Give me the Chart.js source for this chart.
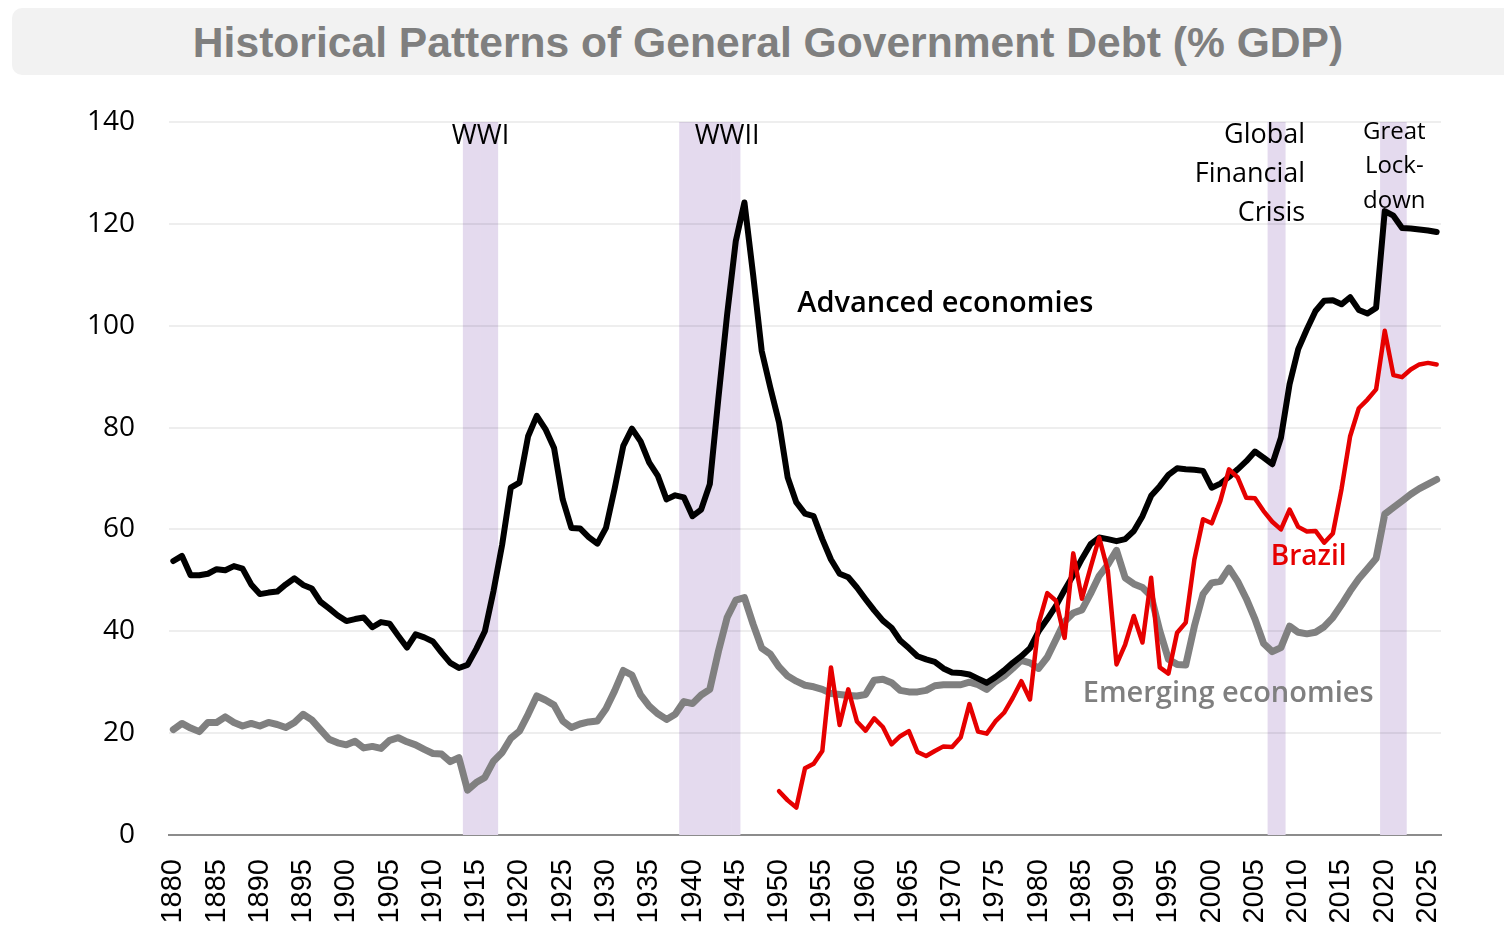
<!DOCTYPE html>
<html>
<head>
<meta charset="utf-8">
<script src="https://cdn.jsdelivr.net/npm/chart.js@4.4.1/dist/chart.umd.min.js"></script>
<style>
html,body{margin:0;padding:0;background:#fff;overflow:hidden;width:1504px;height:927px;}
#c{position:absolute;left:0;top:0;}
#title{position:absolute;left:12px;top:8px;width:1520px;height:67px;background:#f2f2f2;border-radius:10px;
 font-family:"Liberation Sans",Arial,sans-serif;font-weight:bold;font-size:42.6px;color:#7f7f7f;line-height:68px;z-index:2;}
#title span{position:absolute;left:0;top:0;width:1512px;text-align:center;white-space:nowrap;}
</style>
</head>
<body>
<canvas id="c" width="1504" height="927"></canvas>
<div id="title"><span>Historical Patterns of General Government Debt (% GDP)</span></div>
<script>
// ---- categories ----
const firstYear = 1880;
const lastYear = 2026;
const years = [];
for (let y = firstYear; y <= lastYear; y++) years.push(String(y));

// ---- y-axis tick labels ----
const yTicks = [0, 20, 40, 60, 80, 100, 120, 140];

// ---- series: Advanced economies (1880-2026) ----
const advanced = [
 53.8, 54.8, 51.0, 51.0, 51.3, 52.2, 52.0, 52.8, 52.3, 49.2,
 47.3, 47.6, 47.8, 49.2, 50.4, 49.1, 48.4, 45.8, 44.5, 43.1,
 42.0, 42.4, 42.7, 40.8, 41.8, 41.5, 39.1, 36.8, 39.4, 38.8,
 38.0, 35.8, 33.8, 32.8, 33.4, 36.5, 40.0, 47.9, 57.0, 68.2,
 69.2, 78.3, 82.3, 79.7, 76.0, 65.9, 60.3, 60.2, 58.5, 57.2,
 60.3, 68.0, 76.4, 79.8, 77.3, 73.1, 70.5, 65.9, 66.7, 66.3,
 62.6, 63.9, 68.9, 85.9, 102.2, 116.6, 124.2, 110.1, 95.0, 87.8,
 81.0, 70.2, 65.3, 63.1, 62.6, 58.1, 54.1, 51.3, 50.6, 48.6,
 46.3, 44.1, 42.1, 40.7, 38.2, 36.7, 35.1, 34.5, 34.0, 32.7,
 31.9, 31.8, 31.5, 30.7, 29.9, 31.0, 32.3, 33.8, 35.1, 36.7,
 40.0, 42.4, 45.0, 48.1, 51.0, 54.2, 57.1, 58.4, 58.1, 57.7,
 58.1, 59.7, 62.6, 66.6, 68.5, 70.7, 72.0, 71.8, 71.7, 71.5,
 68.2, 69.0, 70.3, 71.8, 73.4, 75.3, 74.1, 72.8, 78.0, 88.5,
 95.4, 99.3, 102.9, 104.9, 105.0, 104.2, 105.6, 103.1, 102.4, 103.5,
 122.5, 121.6, 119.2, 119.1, 118.9, 118.7, 118.4
];

// ---- series: Emerging economies (1880-2026) ----
const emerging = [
 20.7, 21.9, 21.0, 20.3, 22.1, 22.1, 23.2, 22.1, 21.4, 21.9,
 21.4, 22.1, 21.7, 21.1, 22.1, 23.7, 22.6, 20.7, 18.8, 18.1,
 17.7, 18.4, 17.1, 17.4, 17.0, 18.6, 19.1, 18.3, 17.7, 16.8,
 16.0, 15.9, 14.4, 15.2, 8.8, 10.3, 11.3, 14.5, 16.2, 19.0,
 20.4, 23.7, 27.3, 26.5, 25.5, 22.4, 21.1, 21.8, 22.2, 22.4,
 24.8, 28.3, 32.3, 31.4, 27.5, 25.3, 23.8, 22.7, 23.7, 26.2,
 25.8, 27.5, 28.6, 36.1, 42.7, 46.1, 46.6, 41.4, 36.7, 35.5,
 33.0, 31.2, 30.2, 29.4, 29.1, 28.6, 27.8, 27.6, 27.4, 27.3,
 27.6, 30.4, 30.6, 29.9, 28.4, 28.1, 28.1, 28.4, 29.3, 29.5,
 29.5, 29.5, 30.0, 29.5, 28.6, 30.1, 31.2, 32.7, 34.3, 33.8,
 32.7, 34.9, 38.4, 41.9, 43.6, 44.2, 47.4, 50.9, 53.1, 55.9,
 50.5, 49.3, 48.6, 46.9, 40.1, 34.5, 33.5, 33.4, 41.0, 47.3,
 49.5, 49.8, 52.4, 49.8, 46.4, 42.4, 37.6, 36.0, 36.8, 41.0,
 39.8, 39.5, 39.8, 40.9, 42.7, 45.2, 47.9, 50.3, 52.3, 54.3,
 63.0, 64.3, 65.6, 66.9, 68.0, 68.9, 69.8
];

// ---- series: Brazil (1950-2026) ----
const brazilStartYear = 1950;
const brazil = [
 8.6, 6.8, 5.4, 13.1, 14.0, 16.5, 32.9, 21.6, 28.6, 22.3,
 20.5, 22.9, 21.2, 17.8, 19.4, 20.4, 16.3, 15.5, 16.5, 17.4,
 17.3, 19.2, 25.7, 20.3, 19.9, 22.3, 24.0, 26.9, 30.2, 26.6,
 41.5, 47.5, 46.0, 38.7, 55.3, 46.4, 52.5, 58.4, 51.9, 33.5,
 37.4, 43.0, 37.8, 50.5, 32.9, 31.7, 39.7, 41.7, 54.1, 62.0,
 61.2, 65.6, 71.8, 70.2, 66.2, 66.1, 63.6, 61.5, 60.0, 63.9,
 60.5, 59.6, 59.7, 57.4, 59.2, 67.9, 78.3, 83.8, 85.5, 87.5,
 99.0, 90.3, 89.9, 91.4, 92.4, 92.7, 92.4
];

// ---- shaded event periods (first year, last year) ----
const eventPeriods = [[1914, 1917], [1939, 1945], [2007, 2008], [2020, 2022]];
const eventTop = 140;

// ---- derived datasets ----
const brazilData = years.map(y => {
  const i = Number(y) - brazilStartYear;
  return i >= 0 && i < brazil.length ? brazil[i] : null;
});
const bandData = years.map(y => {
  const yr = Number(y);
  return eventPeriods.some(p => yr >= p[0] && yr <= p[1]) ? eventTop : null;
});

// ---- text annotations (anchored in year / value units) ----
const FONT = '"Open Sans", "Noto Sans", sans-serif';
const notes = [
  {t: 'WWI', yr: 1915.5, v: 137.2, a: 'center', f: '27px ' + FONT, c: '#000'},
  {t: 'WWII', yr: 1944.0, v: 137.2, a: 'center', f: '27px ' + FONT, c: '#000'},
  {t: 'Global', yr: 2010.8, v: 137.4, a: 'right', f: '27px ' + FONT, c: '#000'},
  {t: 'Financial', yr: 2010.8, v: 129.8, a: 'right', f: '27px ' + FONT, c: '#000'},
  {t: 'Crisis', yr: 2010.8, v: 122.1, a: 'right', f: '27px ' + FONT, c: '#000'},
  {t: 'Great', yr: 2021.1, v: 138.0, a: 'center', f: '24px ' + FONT, c: '#000'},
  {t: 'Lock-', yr: 2021.1, v: 131.4, a: 'center', f: '24px ' + FONT, c: '#000'},
  {t: 'down', yr: 2021.1, v: 124.5, a: 'center', f: '24px ' + FONT, c: '#000'},
  {t: 'Advanced economies', yr: 1952.1, v: 104.3, a: 'left', f: '600 29px ' + FONT, c: '#000'},
  {t: 'Brazil', yr: 2011.2, v: 54.6, a: 'center', f: '600 28px ' + FONT, c: '#e60000'},
  {t: 'Emerging economies', yr: 1985.1, v: 27.7, a: 'left', f: '600 29px ' + FONT, c: '#7f7f7f'}
];

const notesPlugin = {
  id: 'notes',
  // horizontal gridlines drawn right after the shaded bands, beneath the lines
  afterDatasetDraw(chart, args) {
    if (args.meta.type !== 'bar') return;
    const ctx = chart.ctx, ys = chart.scales.y, area = chart.chartArea;
    ctx.save();
    ctx.strokeStyle = 'rgba(0,0,0,0.065)';
    ctx.lineWidth = 2;
    yTicks.forEach(v => {
      if (v === 0) return;
      const py = Math.round(ys.getPixelForValue(v));
      ctx.beginPath();
      ctx.moveTo(area.left, py);
      ctx.lineTo(area.right, py);
      ctx.stroke();
    });
    ctx.restore();
  },
  afterDatasetsDraw(chart) {
    const ctx = chart.ctx, xs = chart.scales.x, ys = chart.scales.y;
    ctx.save();
    ctx.textBaseline = 'middle';
    notes.forEach(n => {
      ctx.font = n.f;
      ctx.fillStyle = n.c;
      ctx.textAlign = n.a;
      ctx.fillText(n.t, xs.getPixelForValue(n.yr - firstYear), ys.getPixelForValue(n.v));
    });
    ctx.restore();
  }
};

new Chart(document.getElementById('c'), {
  data: {
    labels: years,
    datasets: [
      {type: 'line', label: 'Brazil', data: brazilData, borderColor: '#e60000', borderWidth: 4.5,
       pointRadius: 0, tension: 0, spanGaps: false, borderJoinStyle: 'round', borderCapStyle: 'round', order: 0},
      {type: 'line', label: 'Advanced economies', data: advanced, borderColor: '#000000', borderWidth: 6,
       pointRadius: 0, tension: 0, borderJoinStyle: 'round', borderCapStyle: 'round', order: 1},
      {type: 'line', label: 'Emerging economies', data: emerging, borderColor: '#808080', borderWidth: 7,
       pointRadius: 0, tension: 0, borderJoinStyle: 'round', borderCapStyle: 'round', order: 2},
      {type: 'bar', label: 'Events', data: bandData, backgroundColor: '#e4daee',
       borderWidth: 0, barPercentage: 1, categoryPercentage: 1, order: 3}
    ]
  },
  options: {
    responsive: false,
    animation: false,
    devicePixelRatio: 1,
    layout: {padding: {left: 0, right: 63, top: 122, bottom: 0}},
    plugins: {legend: {display: false}, title: {display: false}, tooltip: {enabled: false}},
    scales: {
      x: {
        type: 'category',
        offset: true,
        grid: {display: false, drawTicks: false},
        border: {display: true, color: '#8c8c8c', width: 2},
        ticks: {
          autoSkip: false, maxRotation: 90, minRotation: 90, padding: 24,
          color: '#000', font: {family: '"Liberation Sans", Arial, sans-serif', size: 29},
          callback: function(val, idx) { const y = Number(years[idx]); return y % 5 === 0 ? years[idx] : ''; }
        },
        afterFit: s => { s.height = 92; }
      },
      y: {
        min: 0, max: 140,
        afterBuildTicks: s => { s.ticks = yTicks.map(v => ({value: v})); },
        grid: {display: false, drawTicks: false},
        border: {display: false},
        ticks: {padding: 34, color: '#000', font: {family: FONT, size: 28}},
        afterFit: s => { s.width = 169; }
      }
    }
  },
  plugins: [notesPlugin]
});
</script>
</body>
</html>
